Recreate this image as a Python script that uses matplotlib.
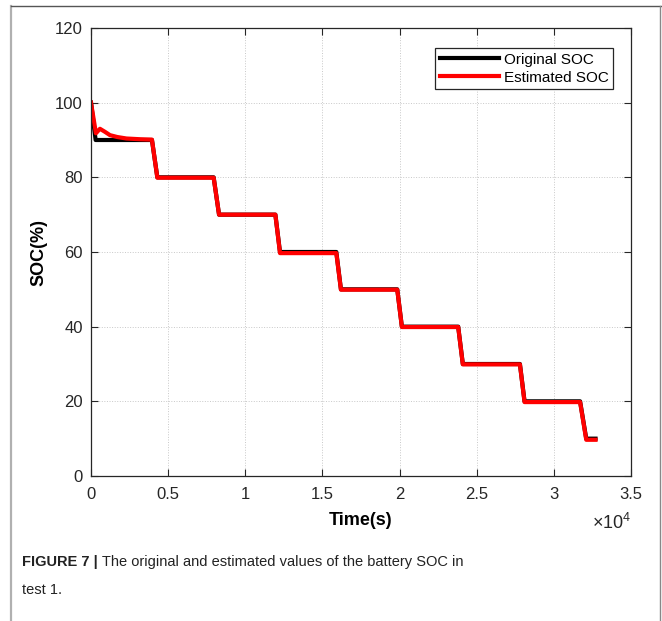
import matplotlib
matplotlib.use("Agg")
import matplotlib.pyplot as plt
from matplotlib.lines import Line2D

plt.rcParams['font.family'] = ['Liberation Sans', 'DejaVu Sans']
plt.rcParams['mathtext.fontset'] = 'custom'
plt.rcParams['mathtext.rm'] = 'Liberation Sans'

# original SOC (step profile)
orig_t = [0, 300, 3950, 4300, 7950, 8300, 11950, 12250, 15900, 16200,
          19850, 20150, 23800, 24100, 27800, 28100, 31700, 32100, 32700]
orig_soc = [100, 90, 90, 80, 80, 70, 70, 60, 60, 50,
            50, 40, 40, 30, 30, 20, 20, 10, 10]

# estimated SOC
est_t = [0, 320, 580, 900, 1230, 1700, 2300, 3200, 3950, 4300, 7950, 8300,
         11950, 12250, 15900, 16200, 19850, 20150, 23800, 24100, 27800, 28100,
         31700, 32100, 32700]
est_soc = [100, 91.8, 93.0, 92.2, 91.3, 90.8, 90.4, 90.2, 90.1, 79.9, 79.9, 70.0,
           70.0, 59.7, 59.7, 49.9, 49.9, 39.9, 39.9, 29.9, 29.9, 19.8,
           19.8, 9.7, 9.7]

x_ticks = [0, 5000, 10000, 15000, 20000, 25000, 30000, 35000]
x_labels = ['0', '0.5', '1', '1.5', '2', '2.5', '3', '3.5']
y_ticks = [0, 20, 40, 60, 80, 100, 120]

fig = plt.figure(figsize=(6.62, 6.21), dpi=100)
ax = fig.add_axes([91 / 662, 1 - 476 / 621, 540 / 662, 448 / 621])

ax.plot(orig_t, orig_soc, color='black', lw=3, label='Original SOC')
ax.plot(est_t, est_soc, color='#ff0000', lw=3, label='Estimated SOC')

ax.set_xlim(0, 35000)
ax.set_ylim(0, 120)
ax.set_xticks(x_ticks)
ax.set_xticklabels(x_labels)
ax.set_yticks(y_ticks)
ax.tick_params(direction='in', top=True, right=True, length=5, width=0.8,
               labelsize=12, colors='#262626')
ax.tick_params(axis='x', pad=8)
ax.tick_params(axis='y', pad=6)
ax.grid(True, color='#c8c8c8', ls=':', lw=0.7)
for s in ax.spines.values():
    s.set_color('#262626')
    s.set_linewidth(0.9)

ax.set_xlabel('Time(s)', fontsize=13, fontweight='bold', labelpad=7)
ax.set_ylabel('SOC(%)', fontsize=13, fontweight='bold', labelpad=5)
ax.text(1.0, -0.105, r'$\times10^{4}$', transform=ax.transAxes,
        ha='right', va='center', fontsize=13, color='#262626')

leg = ax.legend(loc='upper right', bbox_to_anchor=(0.967, 0.955), fontsize=11,
                handlelength=3.9, handletextpad=0.3, borderpad=0.3,
                labelspacing=0.25, fancybox=False, framealpha=1,
                edgecolor='#262626', borderaxespad=0)
leg.get_frame().set_linewidth(0.9)

# outer page frame
fig.add_artist(Line2D([11 / 662, 11 / 662], [0, 1 - 6 / 621],
                      transform=fig.transFigure, color='#b0b0b0', lw=1.6))
fig.add_artist(Line2D([11 / 662, 1], [1 - 6 / 621, 1 - 6 / 621],
                      transform=fig.transFigure, color='#555555', lw=1.0))
fig.add_artist(Line2D([660 / 662, 660 / 662], [0, 1 - 6 / 621],
                      transform=fig.transFigure, color='#888888', lw=1.0))

# caption
cap1 = fig.text(22 / 662, 1 - 562 / 621, 'FIGURE 7 |', fontsize=10.5,
                fontweight='bold', va='center', color='#222222')
fig.canvas.draw()
ax.annotate(' The original and estimated values of the battery SOC in',
            xy=(1, 0.5), xycoords=cap1, va='center', fontsize=10.5,
            color='#222222', annotation_clip=False)
fig.text(22 / 662, 1 - 590 / 621, 'test 1.', fontsize=10.5, va='center',
         color='#222222')

fig.savefig('out.png', dpi=100)
